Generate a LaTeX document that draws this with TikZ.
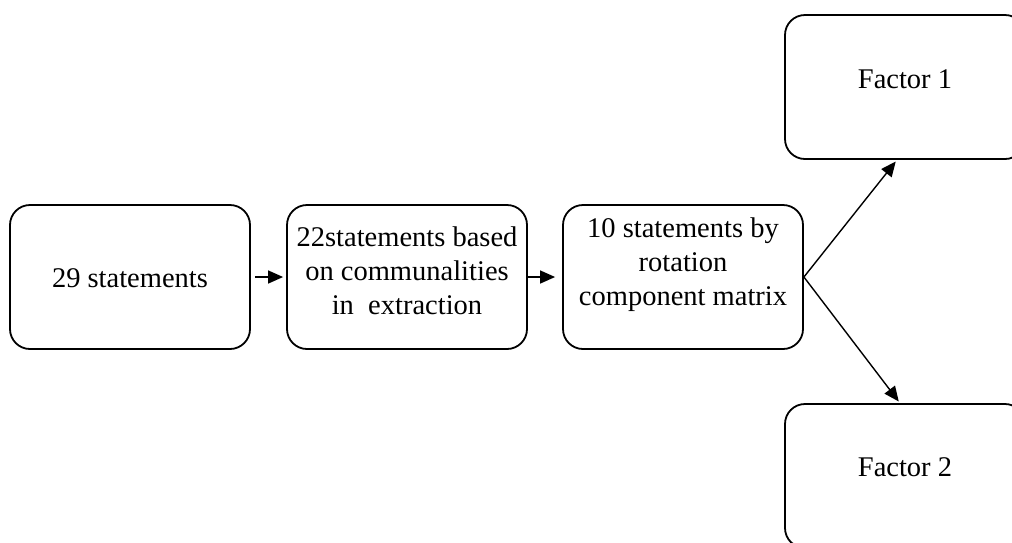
\documentclass[tikz,border=0pt]{standalone}
\usepackage{fontspec}
\setmainfont{Liberation Serif}
\usetikzlibrary{arrows.meta,calc}

\begin{document}
\begin{tikzpicture}[x=1pt,y=-1pt,
  box/.style={draw, line width=1.8pt, rounded corners=20pt,
              minimum width=240pt, minimum height=144pt, inner sep=0pt},
  txt/.style={font=\fontsize{28.5}{34}\selectfont, align=center, inner sep=0pt},
  flow/.style={line width=1.4pt, -{Triangle[length=15pt,width=13pt]}}]
\useasboundingbox (0,0) rectangle (1012,542);

% chain of reduction steps
\node[box, label={[txt, yshift=-1.5pt]center:29 statements}] (s29) at (130,277) {};
\node[box, label={[txt, yshift=6pt]center:22statements based\\on communalities\\in~~extraction}] (s22) at (407,277) {};
\node[box, label={[txt, yshift=12pt]center:10 statements by\\rotation\\component matrix}] (s10) at (683,277) {};

% resulting factors
\node[box, label={[txt, yshift=8pt]center:Factor 1}] (f1) at (905,87) {};
\node[box, label={[txt, yshift=9pt]center:Factor 2}] (f2) at (905,476) {};

% connectors
\draw[flow, shorten <=4pt, shorten >=3pt] (s29) -- (s22);
\draw[flow, shorten >=7pt] (s22) -- (s10);
\draw[flow, shorten >=2pt] (s10.east) -- ([xshift=-8pt]f1.south);
\draw[flow, shorten >=2pt] (s10.east) -- ([xshift=-5pt]f2.north);
\end{tikzpicture}
\end{document}
